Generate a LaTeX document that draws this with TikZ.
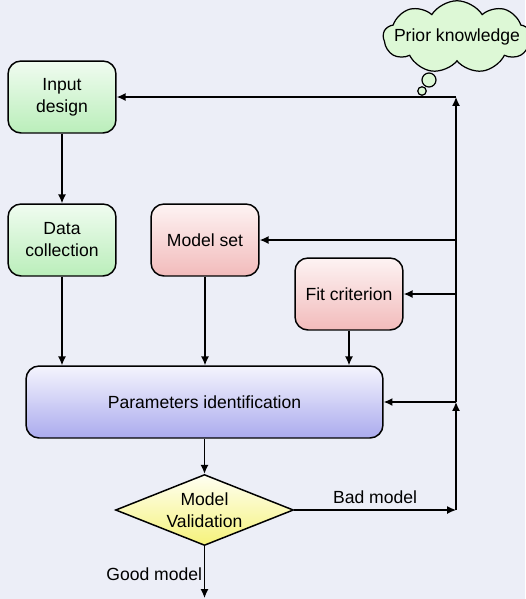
\documentclass[tikz,border=0pt]{standalone}
\usepackage{fontspec}
\setmainfont{Liberation Sans}
\usetikzlibrary{shapes.geometric,shapes.symbols,arrows.meta}

\definecolor{bgcol}{HTML}{ECEEF7}
\definecolor{grnlo}{HTML}{F0FCF0}
\definecolor{grnhi}{HTML}{BAEEBA}
\definecolor{redlo}{HTML}{FDF3F3}
\definecolor{redhi}{HTML}{F2BBBB}
\definecolor{blulo}{HTML}{F4F4FD}
\definecolor{bluhi}{HTML}{ABABEE}
\definecolor{yello}{HTML}{FFFFF2}
\definecolor{yelhi}{HTML}{F5F27A}
\definecolor{cloudcol}{HTML}{DDF8D6}

\tikzset{
  box/.style={draw, line width=0.85pt, rounded corners=0.26cm, align=center,
    font=\fontsize{10}{12.5}\selectfont, minimum width=2.16cm, minimum height=1.44cm,
    inner sep=2pt},
  greenbox/.style={box, shading angle=45, top color=grnlo, bottom color=grnhi},
  redbox/.style={box, shading angle=45, top color=redlo, bottom color=redhi},
  bluebox/.style={box, top color=blulo, bottom color=bluhi,
    minimum width=7.14cm},
  test/.style={diamond, draw, line width=0.85pt, aspect=2.5, inner sep=0pt,
    align=center, font=\fontsize{10}{12.5}\selectfont,
    top color=yello, bottom color=yelhi,
    minimum width=3.56cm, minimum height=1.42cm},
  lbl/.style={font=\fontsize{10}{12}\selectfont}
}

\begin{document}
\begin{tikzpicture}[x=0.02cm, y=-0.02cm, >={Latex[length=5pt,width=4.5pt]},
    line width=0.75pt] %[scale=0.8]
      \path [use as bounding box, fill=bgcol] (0,0) rectangle (525,599);
      \node [cloud, draw, line width=0.7pt, fill=cloudcol, cloud puffs=9,
        cloud puff arc=115, aspect=1.9, minimum width=2.95cm, minimum height=1.45cm,
        inner sep=0pt, label={[lbl]center:Prior knowledge}] (prior) at (457,37) {};
      \node [circle, draw, line width=0.7pt, fill=cloudcol, inner sep=0pt,
        minimum size=0.28cm] (bub1) at (429,80) {};
      \node [circle, draw, line width=0.7pt, fill=cloudcol, inner sep=0pt,
        minimum size=0.17cm] (bub2) at (422,91) {};
      \node [greenbox] (input) at (62,97) {Input\\design};
      \node [greenbox] (data) at (62,240) {Data\\collection};
      \node [redbox] (mset) at (205,240) {Model set};
      \node [redbox] (fit) at (349,294) {Fit criterion};
      \node [bluebox] (param) at (204.5,402) {Parameters identification};
      \node [test] (valid) at (204.5,510) {Model\\Validation};
      \coordinate (v0) at (456,97);
      \coordinate (v1) at (456,240);
      \coordinate (v2) at (456,294);
      \coordinate (v3) at (456,402);
      \coordinate (v4) at (456,510);
      \coordinate (out) at (204.5,598);
      % forward path
      \draw [->] (input) -- (data);
      \draw [->] (data) -- (data |- param.north);
      \draw [->] (mset) -- (mset |- param.north);
      \draw [->] (fit) -- (fit |- param.north);
      \draw [->] (param) -- (valid);
      \draw [->] (valid) -- node [lbl, left, pos=0.55, inner sep=1pt] {Good model} (out);
      % feedback
      \draw [->] (valid) -- node [lbl, above, pos=0.5] {Bad model} (v4);
      \draw [->] (v4) -- (v3);
      \draw [->] (v3) -- (v0);
      \draw [->] (v0) -- (input);
      \draw [->] (v1) -- (mset);
      \draw [->] (v2) -- (fit);
      \draw [->] (v3) -- (param);
    \end{tikzpicture}
\end{document}
